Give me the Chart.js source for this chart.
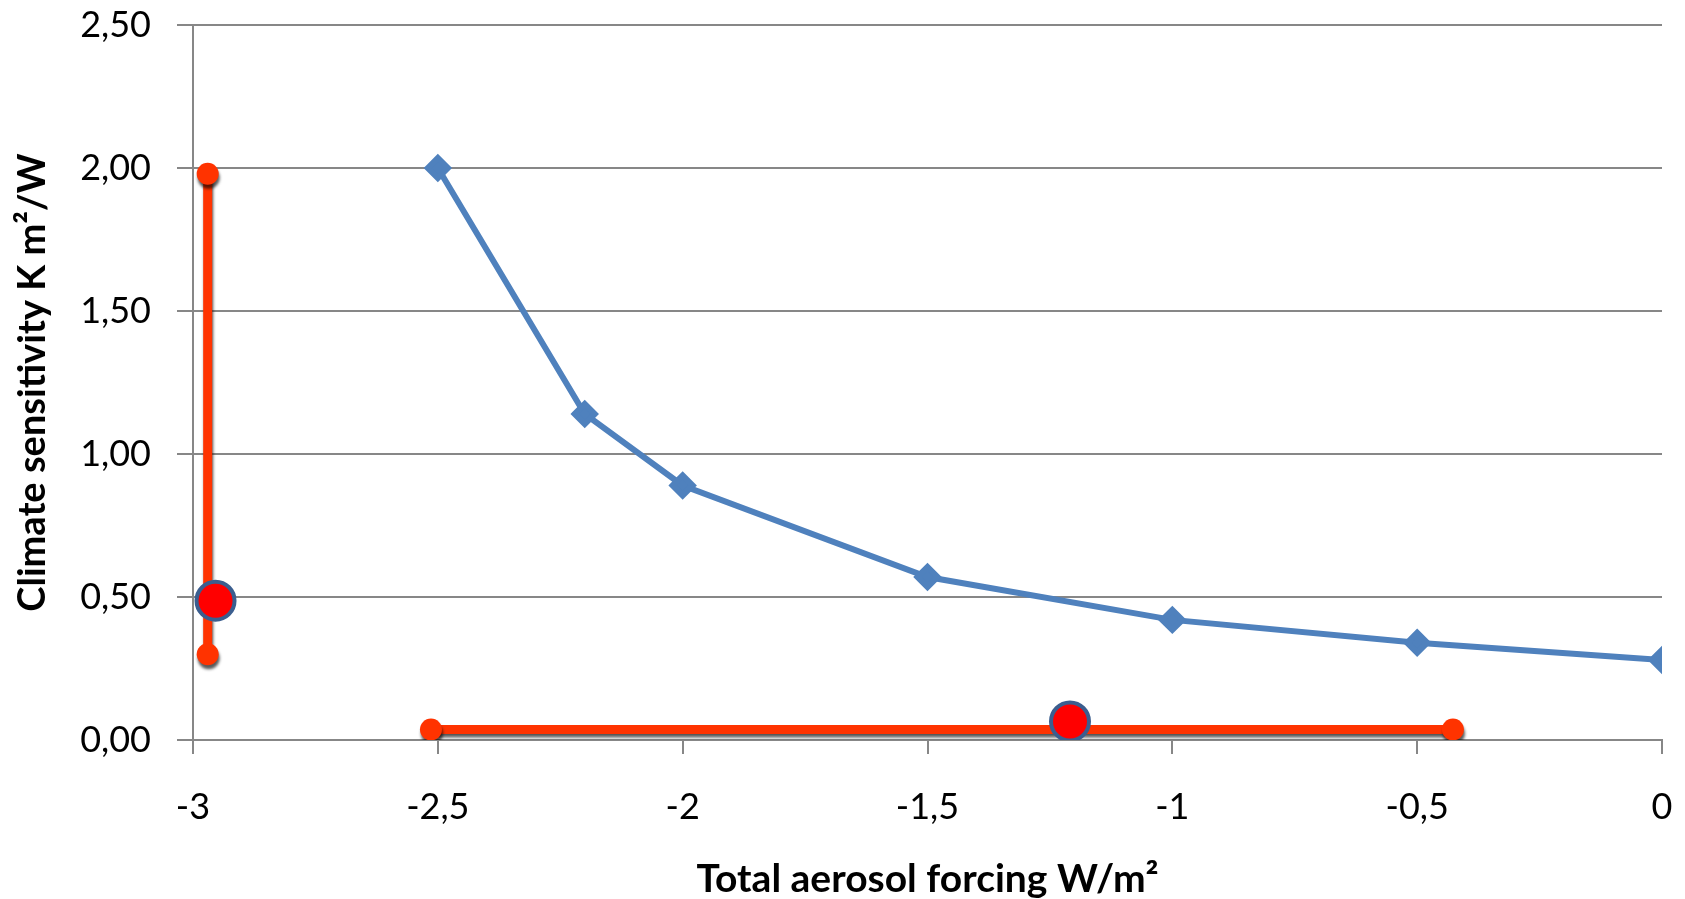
<!DOCTYPE html>
<html>
<head>
<meta charset="utf-8">
<script src="https://cdn.jsdelivr.net/npm/chart.js@4"></script>
<style>
    body { margin: 0; background: #fff; }
    #wrap { width: 1685px; height: 899px; }
</style>
</head>
<body>
<div id="wrap"><canvas id="chart"></canvas></div>
<script>
// blue curve: sensitivity vs forcing
const curveForcing = [-2.5, -2.2, -2, -1.5, -1, -0.5, 0];
const curveSensitivity = [2.00, 1.14, 0.89, 0.57, 0.42, 0.34, 0.28];

// red range on the sensitivity axis
const sensRangeX = [-2.97, -2.97];
const sensRangeY = [1.98, 0.30];
const sensBest = { x: -2.954, y: 0.487 };

// red range on the forcing axis
const forcRangeX = [-2.514, -0.427];
const forcRangeY = [0.037, 0.037];
const forcBest = { x: -1.209, y: 0.065 };

const xTicksMin = -3, xTicksMax = 0, xStep = 0.5;
const yTicksMin = 0, yTicksMax = 2.5, yStep = 0.5;

const toPoints = (xs, ys) => xs.map((x, i) => ({ x: x, y: ys[i] }));

const grey = '#878787';
const red = '#FF3300';

// draw the red range bars with a soft drop shadow, like the original
const shadowPlugin = {
    id: 'shadow',
    beforeDatasetDraw(chart, args) {
        const ds = chart.data.datasets[args.index];
        if (!ds.shadow) return;
        const ctx = chart.ctx;
        ctx.save();
        ctx.shadowColor = 'rgba(0,0,0,0.65)';
        ctx.shadowBlur = 3;
        ctx.shadowOffsetX = 1;
        ctx.shadowOffsetY = 4;
    },
    afterDatasetDraw(chart, args) {
        const ds = chart.data.datasets[args.index];
        if (!ds.shadow) return;
        chart.ctx.restore();
    }
};

const ctx = document.getElementById('chart').getContext('2d');
new Chart(ctx, {
    type: 'scatter',
    data: {
        datasets: [
            {
                data: [sensBest, forcBest],
                pointRadius: 19,
                pointBorderWidth: 4,
                pointBackgroundColor: '#FF0000',
                pointBorderColor: '#3B5E8F',
                showLine: false
            },
            {
                data: toPoints(sensRangeX, sensRangeY),
                showLine: true,
                borderColor: red,
                borderWidth: 9,
                pointRadius: 11,
                pointBackgroundColor: red,
                pointBorderWidth: 0,
                shadow: true
            },
            {
                data: toPoints(forcRangeX, forcRangeY),
                showLine: true,
                borderColor: red,
                borderWidth: 9,
                pointRadius: 11,
                pointBackgroundColor: red,
                pointBorderWidth: 0,
                shadow: true
            },
            {
                data: toPoints(curveForcing, curveSensitivity),
                showLine: true,
                borderColor: '#4F81BD',
                borderWidth: 6,
                pointStyle: 'rectRot',
                pointRadius: 10,
                pointBackgroundColor: '#4F81BD',
                pointBorderColor: '#4F81BD',
                tension: 0
            }
        ]
    },
    options: {
        responsive: true,
        maintainAspectRatio: false,
        animation: false,
        layout: { autoPadding: false, padding: { top: 25, right: 23, left: 0, bottom: 0 } },
        plugins: {
            legend: { display: false },
            tooltip: { enabled: false }
        },
        scales: {
            x: {
                type: 'linear',
                min: xTicksMin,
                max: xTicksMax,
                afterFit: s => { s.height = 159; s.paddingLeft = 0; s.paddingRight = 0; },
                grid: { drawOnChartArea: false, color: grey, lineWidth: 2, tickLength: 14, tickColor: grey },
                border: { color: grey, width: 2 },
                ticks: {
                    stepSize: xStep,
                    padding: 32,
                    color: '#000',
                    font: { family: 'Lato', size: 36 },
                    callback: v => String(v).replace('.', ',')
                },
                title: {
                    display: true,
                    text: 'Total aerosol forcing W/m²',
                    color: '#000',
                    font: { family: 'Lato', size: 39, weight: 'bold' },
                    padding: { top: 0, bottom: -4 }
                }
            },
            y: {
                min: yTicksMin,
                max: yTicksMax,
                afterFit: s => { s.width = 193; s.paddingTop = 0; s.paddingBottom = 0; },
                grid: { color: grey, lineWidth: 2, tickLength: 16, tickColor: grey },
                border: { color: grey, width: 2 },
                ticks: {
                    stepSize: yStep,
                    padding: 26,
                    color: '#000',
                    font: { family: 'Lato', size: 36 },
                    callback: v => v.toFixed(2).replace('.', ',')
                },
                title: {
                    display: true,
                    text: 'Climate sensitivity K m²/W',
                    color: '#000',
                    font: { family: 'Lato', size: 38, weight: 'bold' },
                    padding: { top: 10, bottom: 0 }
                }
            }
        }
    },
    plugins: [shadowPlugin]
});
</script>
</body>
</html>
